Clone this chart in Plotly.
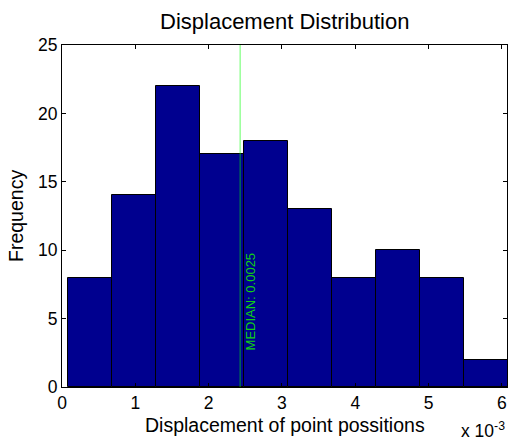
import plotly.graph_objects as go

# Histogram data (displacement in metres)
bin_edges = [0.00008, 0.00068, 0.00128, 0.00188, 0.00248, 0.00308,
             0.00368, 0.00428, 0.00488, 0.00548, 0.00608]
counts = [8, 14, 22, 17, 18, 13, 8, 10, 8, 2]
median_value = 0.00243
median_label = "MEDIAN: 0.0025"
x_tick_vals = [0, 0.001, 0.002, 0.003, 0.004, 0.005, 0.006]
x_tick_text = ["0", "1", "2", "3", "4", "5", "6"]
y_tick_vals = [0, 5, 10, 15, 20, 25]

centers = [(a + b) / 2 for a, b in zip(bin_edges[:-1], bin_edges[1:])]
widths = [b - a for a, b in zip(bin_edges[:-1], bin_edges[1:])]

FONT = "Liberation Sans, Arial, sans-serif"

fig = go.Figure()
fig.add_trace(go.Bar(
    x=centers, y=counts, width=widths,
    marker=dict(color="#00008F", line=dict(color="black", width=1)),
    showlegend=False, hoverinfo="x+y",
))
fig.add_trace(go.Scatter(
    x=[median_value, median_value], y=[0, 25], mode="lines",
    line=dict(color="rgba(0,255,0,0.5)", width=1.2),
    showlegend=False, hoverinfo="skip",
))

fig.add_annotation(
    x=median_value, y=2.5, xref="x", yref="y", text=median_label,
    textangle=-90, showarrow=False, xanchor="left", yanchor="bottom",
    xshift=1, font=dict(family=FONT, size=13, color="#10d010"),
)

fig.update_layout(
    width=508, height=440,
    margin=dict(l=62, r=1, t=45, b=53),
    paper_bgcolor="white", plot_bgcolor="white",
    bargap=0,
    font=dict(family=FONT, size=17, color="black"),
    xaxis=dict(
        range=[0, 0.00607], tickvals=x_tick_vals, ticktext=x_tick_text,
        ticks="inside", ticklen=4, tickcolor="black", mirror="ticks",
        showline=True, linecolor="black", linewidth=1, showgrid=False,
        zeroline=False, tickfont=dict(size=17.5),
    ),
    yaxis=dict(
        range=[0, 25], tickvals=y_tick_vals,
        ticks="inside", ticklen=4, tickcolor="black", mirror="ticks",
        showline=True, linecolor="black", linewidth=1, showgrid=False,
        zeroline=False, tickfont=dict(size=17.5),
    ),
    annotations=list(fig.layout.annotations) + [
        dict(text="Displacement Distribution", x=0.5, y=1, xref="paper", yref="paper",
             yshift=24, yanchor="middle", showarrow=False, font=dict(size=22)),
        dict(text="Displacement of point possitions", x=0.5, y=0, xref="paper", yref="paper",
             yshift=-38, yanchor="middle", showarrow=False, font=dict(size=19.5)),
        dict(text="Frequency", x=0, y=0.5, xref="paper", yref="paper", textangle=-90,
             xshift=-46, xanchor="center", showarrow=False, font=dict(size=19.5)),
        dict(text="x 10<sup>-3</sup>", x=1, y=0, xref="paper", yref="paper",
             xshift=0, yshift=-43, xanchor="right", yanchor="middle", showarrow=False,
             font=dict(size=17.5)),
    ],
)

fig.write_html("out.html", config={"displayModeBar": False},
               post_script="document.body.style.margin='0';")
